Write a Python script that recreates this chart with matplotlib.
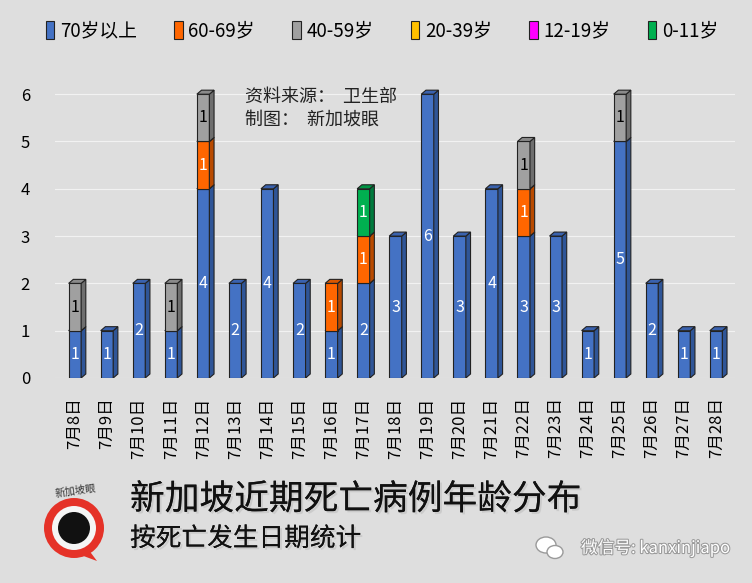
import numpy as np
import matplotlib
matplotlib.use("Agg")
import matplotlib.pyplot as plt
from matplotlib.patches import Polygon, Rectangle, Ellipse
import matplotlib.patheffects as pe

plt.rcParams['font.family'] = ['Noto Sans CJK SC', 'DejaVu Sans']

dates = ["7月8日", "7月9日", "7月10日", "7月11日", "7月12日", "7月13日", "7月14日",
         "7月15日", "7月16日", "7月17日", "7月18日", "7月19日", "7月20日", "7月21日",
         "7月22日", "7月23日", "7月24日", "7月25日", "7月26日", "7月27日", "7月28日"]
groups = ["70岁以上", "60-69岁", "40-59岁", "20-39岁", "12-19岁", "0-11岁"]
age_70_plus = [1, 1, 2, 1, 4, 2, 4, 2, 1, 2, 3, 6, 3, 4, 3, 3, 1, 5, 2, 1, 1]
age_60_69 = [0, 0, 0, 0, 1, 0, 0, 0, 1, 1, 0, 0, 0, 0, 1, 0, 0, 0, 0, 0, 0]
age_40_59 = [1, 0, 0, 1, 1, 0, 0, 0, 0, 0, 0, 0, 0, 0, 1, 0, 0, 1, 0, 0, 0]
age_20_39 = [0] * 21
age_12_19 = [0] * 21
age_0_11 = [0, 0, 0, 0, 0, 0, 0, 0, 0, 1, 0, 0, 0, 0, 0, 0, 0, 0, 0, 0, 0]
series = [age_70_plus, age_60_69, age_40_59, age_20_39, age_12_19, age_0_11]

colors = ["#4472C4", "#FF6600", "#A0A0A0", "#FFC000", "#FF00FF", "#00B050"]
side_colors = ["#2F5597", "#B84A00", "#6E6E6E", "#B38600", "#B000B0", "#007A3D"]
top_colors = ["#3A62AE", "#D95700", "#8A8A8A", "#D9A300", "#D900D9", "#009444"]
text_colors = ["white", "white", "black", "black", "white", "white"]

bg = "#dedede"
fig = plt.figure(figsize=(7.52, 5.83), dpi=100, facecolor=bg)
ax = fig.add_axes([55 / 752, 1 - 378 / 583, 680 / 752, 298 / 583])
ax.set_facecolor(bg)

W = 0.39      # front face width
DX = 0.146    # depth in x
DY = 0.085    # depth in y

x = np.arange(len(dates))
bottom = np.zeros(len(dates))
for k, vals in enumerate(series):
    vals = np.array(vals, dtype=float)
    for i in range(len(dates)):
        v = vals[i]
        if v == 0:
            continue
        b = bottom[i]
        x0 = x[i] - W / 2
        x1 = x[i] + W / 2
        ax.add_patch(Rectangle((x0, b), W, v, facecolor=colors[k],
                               edgecolor="#222222", lw=0.8, zorder=3))
        ax.add_patch(Polygon([(x1, b), (x1 + DX, b + DY), (x1 + DX, b + v + DY), (x1, b + v)],
                             closed=True, facecolor=side_colors[k],
                             edgecolor="#222222", lw=0.8, zorder=3))
        ax.add_patch(Polygon([(x0, b + v), (x0 + DX, b + v + DY), (x1 + DX, b + v + DY), (x1, b + v)],
                             closed=True, facecolor=top_colors[k],
                             edgecolor="#222222", lw=0.8, zorder=3))
        ax.text(x[i], b + v / 2, str(int(v)), ha="center", va="center",
                color=text_colors[k], fontsize=11.5, zorder=4)
    bottom += vals

ax.set_xlim(-0.62, 20.59)
ax.set_ylim(0, 6.3)
ax.set_yticks(range(7))
ax.set_yticklabels([str(i) for i in range(7)], fontsize=12)
ax.yaxis.grid(True, color="#f2f2f2", lw=0.8, zorder=0)
ax.set_axisbelow(True)
ax.set_xticks(x)
ax.set_xticklabels(dates, rotation=90, fontsize=12, va="top", ha="center")
ax.tick_params(axis="both", length=0)
ax.tick_params(axis="x", pad=14)
ax.tick_params(axis="y", pad=18)
for s in ax.spines.values():
    s.set_visible(False)

# legend
handles = [Rectangle((0, 0), 1, 1, facecolor=c, edgecolor="#222222", lw=0.8) for c in colors]
fig.legend(handles, groups, loc="center", bbox_to_anchor=(0.508, 1 - 31 / 583), ncol=6,
           frameon=False, fontsize=13.5, handlelength=0.45, handleheight=1.1,
           handletextpad=0.3, columnspacing=2.0)

fig.text(245 / 752, 1 - 97 / 583, "资料来源：  卫生部", fontsize=13, color="#222222", va="center")
fig.text(245 / 752, 1 - 120 / 583, "制图：  新加坡眼", fontsize=13, color="#222222", va="center")

shadow = [pe.withSimplePatchShadow(offset=(1.5, -1.5), shadow_rgbFace="#aaaaaa", alpha=0.35), pe.Normal()]
fig.text(130 / 752, 1 - 500 / 583, "新加坡近期死亡病例年龄分布", fontsize=25, color="#111111",
         va="center", fontweight="light", path_effects=shadow)
fig.text(130 / 752, 1 - 539 / 583, "按死亡发生日期统计", fontsize=18.5, color="#111111",
         va="center", fontweight="light", path_effects=shadow)
fig.text(581 / 752, 1 - 548 / 583, "微信号: kanxinjiapo", fontsize=12, color="white",
         va="center", path_effects=[pe.withStroke(linewidth=1.5, foreground="#9a9a9a")])

# logo, drawn in pixel units
lax = fig.add_axes([0, 0, 140 / 752, 113 / 583])
lax.set_xlim(0, 140)
lax.set_ylim(0, 113)
lax.axis("off")
lax.add_patch(Polygon([(82, 42), (97, 22), (70, 32)], closed=True, facecolor="#E53228", zorder=1))
lax.add_patch(Ellipse((74, 55), 60, 60, facecolor="#E53228", zorder=2))
lax.add_patch(Ellipse((74, 55), 44, 44, facecolor="#f5f5f5", zorder=3))
lax.add_patch(Ellipse((74, 55), 32, 32, facecolor="#111111", zorder=4))
lax.text(76, 92, "新加坡眼", fontsize=7.5, ha="center", va="center", color="#333333", rotation=8)
# wechat icon
lax2 = fig.add_axes([530 / 752, 1 - 565 / 583, 40 / 752, 35 / 583])
lax2.set_xlim(0, 40)
lax2.set_ylim(0, 35)
lax2.axis("off")
lax2.add_patch(Ellipse((16, 20), 20, 16, facecolor="white", edgecolor="#9a9a9a", lw=1))
lax2.add_patch(Ellipse((25, 13), 16, 13, facecolor="white", edgecolor="#9a9a9a", lw=1))

fig.savefig("out.png", dpi=100, facecolor=bg)
